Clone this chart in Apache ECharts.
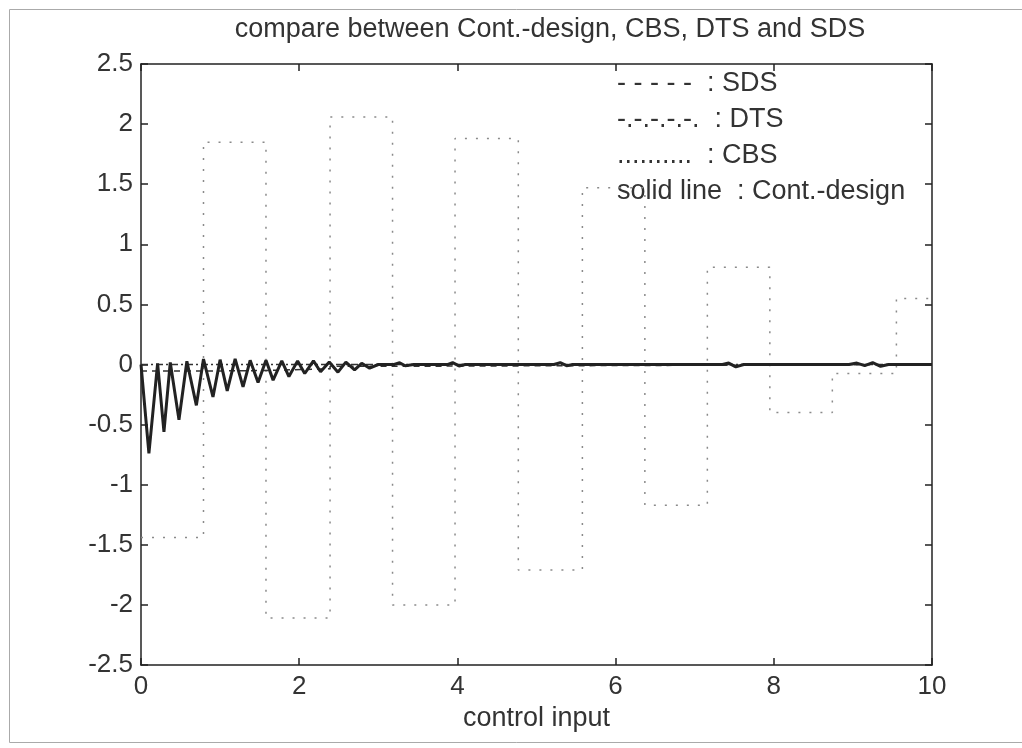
<!DOCTYPE html>
<html>
<head>
<meta charset="utf-8">
<title>compare between Cont.-design, CBS, DTS and SDS</title>
<script src="https://cdn.jsdelivr.net/npm/echarts@6/dist/echarts.min.js"></script>
<style>
  html, body { margin: 0; padding: 0; background: #fff; }
  #main { width: 1022px; height: 748px; }
</style>
</head>
<body>
<div id="main"></div>
<script>
// --- data ---
// CBS: piecewise constant, each value holds until the next time
var cbsTimes = [0, 0.79, 1.58, 2.39, 3.18, 3.97, 4.77, 5.58, 6.37, 7.16, 7.95, 8.74, 9.55, 10];
var cbsValues = [-1.44, 1.85, -2.11, 2.06, -2.0, 1.88, -1.71, 1.47, -1.17, 0.81, -0.4, -0.075, 0.55, 0.55];

// SDS: small offset near zero, also stepwise
var sdsTimes = [0, 0.79, 1.58, 2.39, 3.18, 10];
var sdsValues = [-0.055, -0.05, -0.035, -0.015, 0, 0];

// DTS: stays on zero
var dtsTimes = [0, 10];
var dtsValues = [0, 0];

// Cont.-design: decaying oscillation, then small wiggles
var contTimes = [0, 0.10, 0.21, 0.29, 0.31, 0.37, 0.48, 0.58, 0.70, 0.79,
  0.91, 1.00, 1.09, 1.19, 1.29, 1.38, 1.48, 1.58, 1.67, 1.78,
  1.87, 1.98, 2.07, 2.18, 2.27, 2.38, 2.49, 2.59, 2.70, 2.79,
  2.89, 3.00, 3.20, 3.27, 3.34, 3.45, 3.88, 3.94, 4.02, 4.10,
  5.22, 5.30, 5.38, 5.46, 7.35, 7.43, 7.52, 7.62, 8.95, 9.05,
  9.15, 9.25, 9.35, 9.45, 10];
var contValues = [0, -0.74, 0.01, -0.56, -0.55, 0.017, -0.46, 0.027, -0.34, 0.045,
  -0.27, 0.04, -0.22, 0.047, -0.186, 0.035, -0.15, 0.035, -0.13, 0.03,
  -0.10, 0.03, -0.075, 0.03, -0.06, 0.02, -0.064, 0.02, -0.045, 0.01,
  -0.03, 0, 0, 0.015, -0.01, 0, 0, 0.015, -0.012, 0,
  0, 0.015, -0.01, 0, 0, 0.012, -0.02, 0, 0, 0.012,
  -0.01, 0.015, -0.015, 0, 0];

// legend lines are plain text in the original
var legendLines = [
  "- - - - -  : SDS",
  "-.-.-.-.-.  : DTS",
  "..........  : CBS",
  "solid line  : Cont.-design"
];

function zip(xs, ys) {
  var out = [];
  for (var i = 0; i < xs.length; i++) out.push([xs[i], ys[i]]);
  return out;
}

var FONT = "Liberation Sans, Arial, sans-serif";
var TEXT = "#333";
var AXIS = "#222";

var chart = echarts.init(document.getElementById("main"));

var legendText = legendLines.map(function (s, i) {
  return {
    type: "text",
    left: 617,
    top: 70 + i * 36,
    style: { text: s, font: "27px " + FONT, fill: TEXT }
  };
});

function frameAxis(extra) {
  return Object.assign({
    axisLine: { show: true, onZero: false, lineStyle: { color: AXIS, width: 1.5 } },
    axisTick: { show: true, inside: true, length: 7, lineStyle: { color: AXIS, width: 1.5 } },
    splitLine: { show: false }
  }, extra);
}

var option = {
  animation: false,
  backgroundColor: "#fff",
  title: {
    text: "compare between Cont.-design, CBS, DTS and SDS",
    left: 545,
    top: 11,
    textAlign: "center",
    textStyle: { fontFamily: FONT, fontSize: 27, fontWeight: "normal", color: TEXT }
  },
  grid: { left: 141, right: 90, top: 64, bottom: 83 },
  xAxis: [
    frameAxis({
      type: "value", min: 0, max: 10, interval: 2,
      name: "control input", nameLocation: "middle", nameGap: 34,
      nameTextStyle: { fontFamily: FONT, fontSize: 27, color: TEXT },
      axisLabel: { fontFamily: FONT, fontSize: 26, color: TEXT, margin: 9 }
    }),
    frameAxis({
      type: "value", position: "top", min: 0, max: 10, interval: 2,
      axisLabel: { show: false }
    })
  ],
  yAxis: [
    frameAxis({
      type: "value", min: -2.5, max: 2.5, interval: 0.5,
      axisLabel: { fontFamily: FONT, fontSize: 26, color: TEXT, margin: 8 }
    }),
    frameAxis({
      type: "value", position: "right", min: -2.5, max: 2.5, interval: 0.5,
      axisLabel: { show: false }
    })
  ],
  series: [
    {
      name: "CBS", type: "line", step: "end", showSymbol: false,
      data: zip(cbsTimes, cbsValues),
      lineStyle: { color: "#8a8a8a", width: 1.5, type: [2, 9] }
    },
    {
      name: "SDS", type: "line", step: "end", showSymbol: false,
      data: zip(sdsTimes, sdsValues),
      lineStyle: { color: "#333", width: 1.5, type: [6, 5] }
    },
    {
      name: "DTS", type: "line", showSymbol: false,
      data: zip(dtsTimes, dtsValues),
      lineStyle: { color: "#333", width: 1.5, type: [7, 3, 2, 3] }
    },
    {
      name: "Cont.-design", type: "line", showSymbol: false,
      data: zip(contTimes, contValues),
      lineStyle: { color: "#222", width: 3 }
    }
  ],
  graphic: [
    {
      type: "rect", left: 7, top: 7, z: -1,
      shape: { width: 1030, height: 733 },
      style: { fill: "none", stroke: "#aaa", lineWidth: 1 }
    }
  ].concat(legendText)
};

chart.setOption(option);
</script>
</body>
</html>
